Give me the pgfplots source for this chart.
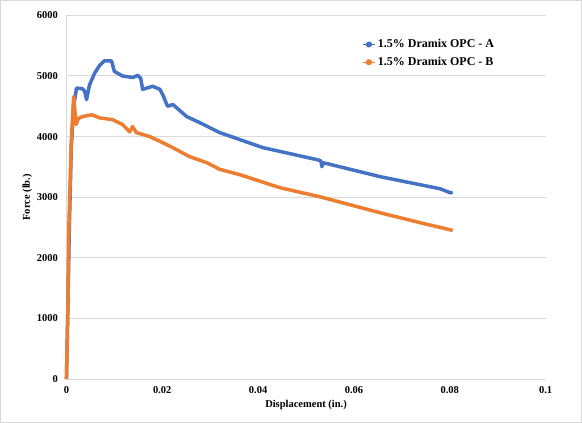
\documentclass[border=0pt]{standalone}
\usepackage{fontspec}
\setmainfont{Liberation Serif}
\usepackage{pgfplots}
\pgfplotsset{compat=1.18}
\usetikzlibrary{calc}
\definecolor{xlblue}{HTML}{4472C4}
\definecolor{xlorange}{HTML}{ED7D31}
\definecolor{gridgray}{HTML}{D9D9D9}
\begin{document}
\begin{tikzpicture}
\begin{axis}[
  scale only axis,
  width=478bp, height=363bp,
  xmin=0, xmax=0.1, ymin=0, ymax=6000,
  xtick={0,0.02,0.04,0.06,0.08,0.1},
  xticklabels={0,0.02,0.04,0.06,0.08,0.1},
  ytick={0,1000,2000,3000,4000,5000,6000},
  yticklabels={0,1000,2000,3000,4000,5000,6000},
  ymajorgrids, grid style={gridgray, line width=1pt},
  axis x line*=bottom, axis y line*=left,
  x axis line style={gridgray, line width=1pt, -},
  y axis line style={gridgray, line width=0.6pt, -},
  major tick length=0pt,
  tick label style={font=\fontsize{10.5}{12}\selectfont\bfseries},
  xticklabel style={yshift=-4pt},
  yticklabel style={xshift=-5pt},
  xlabel={\bfseries Displacement (in.)},
  ylabel={\bfseries Force (lb.)},
  label style={font=\fontsize{10.5}{12}\selectfont},
  xlabel style={yshift=0pt},
  ylabel style={yshift=-2pt},
  legend style={draw=none, fill=none, at={(0.61,0.945)}, anchor=north west,
    font=\fontsize{12}{14}\selectfont\bfseries, row sep=4pt},
  legend cell align=left,
  legend image code/.code={\draw[#1, line width=1.2pt] (0cm,0cm) -- (0.45cm,0cm); \fill[#1] (0.225cm,0cm) circle (1.6pt);},
  clip=false,
]
\addplot[xlblue, line width=3.5pt, line join=round] coordinates {
(0,0) (0.0003,1200) (0.0006,2500) (0.0010,3800) (0.0015,4500) (0.0021,4800)
(0.0033,4790) (0.0038,4750) (0.0042,4610) (0.0048,4850) (0.0059,5050)
(0.0069,5170) (0.0079,5250) (0.0094,5250) (0.0100,5075) (0.0117,5000)
(0.0138,4975) (0.0149,5010) (0.0155,4960) (0.0159,4780) (0.0180,4830)
(0.0195,4780) (0.0201,4690) (0.0211,4500) (0.0222,4530) (0.0251,4330)
(0.0278,4231) (0.0320,4066) (0.0410,3818) (0.0523,3620) (0.0531,3600)
(0.0533,3504) (0.0536,3570) (0.0655,3339) (0.0780,3140) (0.0801,3074)
(0.0806,3080)
};
\addlegendentry{1.5\% Dramix OPC - A}
\addplot[xlorange, line width=3.5pt, line join=round] coordinates {
(0,0) (0.0003,1200) (0.0005,2500) (0.0010,3900) (0.0015,4660) (0.0020,4200)
(0.0025,4300) (0.0033,4330) (0.0053,4360) (0.0069,4310) (0.0096,4280)
(0.0117,4200) (0.0132,4080) (0.0138,4165) (0.0146,4066) (0.0174,4000)
(0.0201,3900) (0.0222,3818) (0.0257,3670) (0.0293,3570) (0.0320,3460)
(0.0362,3372) (0.0446,3157) (0.0529,3008) (0.0655,2744) (0.0739,2579)
(0.0801,2463) (0.0806,2450)
};
\addlegendentry{1.5\% Dramix OPC - B}
\end{axis}
\draw[gridgray, line width=0.6pt] ($(current axis.south west)+(-66bp,-43bp)$) rectangle ($(current axis.north east)+(36bp,15bp)$);
\end{tikzpicture}
\end{document}
